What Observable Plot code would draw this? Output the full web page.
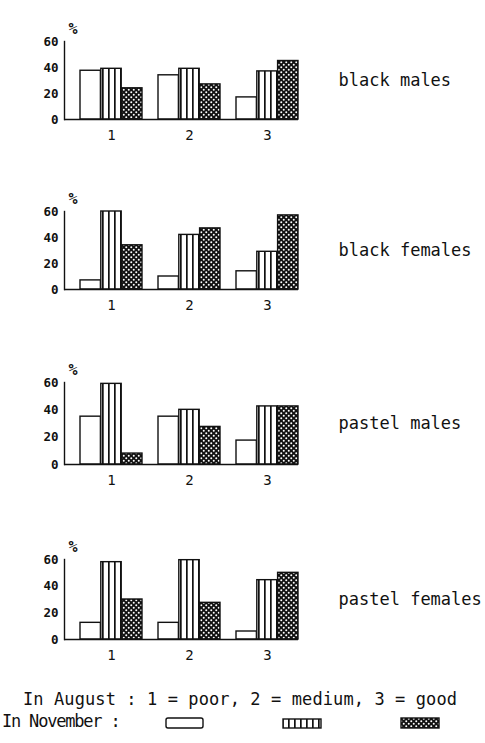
<!DOCTYPE html>
<html><head><meta charset="utf-8">
<script src="https://cdn.jsdelivr.net/npm/d3@7"></script>
<script src="https://cdn.jsdelivr.net/npm/@observablehq/plot@0.6"></script>
<style>
body{margin:0;background:#fff;}
#root{position:relative;width:485px;height:743px;overflow:hidden;font-family:"DejaVu Sans Mono",monospace;color:#111;}
.panel{position:absolute;left:0;}
.legend{position:absolute;white-space:pre;font-size:17px;line-height:17px;}
</style></head><body>
<svg width="0" height="0" style="position:absolute">
<defs>
<pattern id="stripes" patternUnits="userSpaceOnUse" width="6" height="6"><rect width="6" height="6" fill="white"/><rect x="0" width="1.7" height="6" fill="#111"/></pattern>
<pattern id="dots" patternUnits="userSpaceOnUse" width="5" height="5"><rect width="5" height="5" fill="#111"/><circle cx="1.25" cy="1.25" r="1" fill="white"/><circle cx="3.75" cy="3.75" r="1" fill="white"/></pattern>
</defs></svg>
<div id="root"></div>
<script>
// August condition groups
const groups = ["1", "2", "3"];
// November condition series
const series = ["poor", "medium", "good"];
const panelNames = ["black males", "black females", "pastel males", "pastel females"];
const yTicks = [0, 20, 40, 60];
// values (%) ordered: group 1 (poor, medium, good), group 2 (...), group 3 (...)
const blackMales    = [37.5, 39, 24,   34, 39, 27,     17, 37, 45];
const blackFemales  = [7, 60, 34,      10, 42, 47,     14, 29, 57];
const pastelMales   = [35, 59, 8,      35, 40, 27.5,   17.5, 42.5, 42.5];
const pastelFemales = [12.5, 58, 30,   12.5, 59.5, 27.5, 6, 44.5, 50];
const panelValues = [blackMales, blackFemales, pastelMales, pastelFemales];

const fills = {poor: "white", medium: "url(#stripes)", good: "url(#dots)"};
const layout = [{top: 41, h: 78}, {top: 211, h: 78}, {top: 382, h: 82}, {top: 559, h: 80}];
const W = 485, ML = 64, MR = 187, MT = 30, MB = 30;
const pIn = 0.2, pOut = 0.1;
const step = (W - ML - MR) / (3 - pIn + 2 * pOut);
const sub = step * (1 - pIn) / 3;

const root = document.getElementById("root");
panelNames.forEach((name, i) => {
  const vals = panelValues[i];
  const rows = [];
  groups.forEach((g, gi) => series.forEach((s, si) => rows.push({group: g, series: s, value: vals[gi * 3 + si]})));
  const chart = Plot.plot({
    width: W, height: layout[i].h + MT + MB,
    marginTop: MT, marginBottom: MB, marginLeft: ML, marginRight: MR,
    style: {fontFamily: "DejaVu Sans Mono, monospace", fontSize: "12px", background: "transparent", color: "#111", overflow: "visible"},
    x: {domain: groups, paddingInner: pIn, paddingOuter: pOut, align: 1},
    y: {domain: [0, 60]},
    marks: [
      ...series.map((s, k) => Plot.barY(rows.filter(d => d.series === s), {
        x: "group", y: "value", fill: fills[s], stroke: "#111", strokeWidth: 1.4,
        insetLeft: k * sub, insetRight: (2 - k) * sub
      })),
      Plot.ruleY([0], {stroke: "#111", strokeWidth: 1.6}),
      Plot.frame({anchor: "left", stroke: "#111", strokeWidth: 1.4}),
      Plot.axisY({ticks: yTicks, tickSize: 0, tickPadding: 6, label: null, fontWeight: "bold", fontSize: 12.5}),
      Plot.axisX({tickSize: 0, tickPadding: 11, label: null, fontSize: 14}),
      Plot.text(["%"], {frameAnchor: "top-left", dx: 4, dy: -18, fontSize: 15, fontWeight: "bold"}),
      Plot.text([name], {frameAnchor: "right", dx: 40, textAnchor: "start", fontSize: 17})
    ]
  });
  chart.classList.add("panel");
  chart.style.top = (layout[i].top - MT) + "px";
  root.appendChild(chart);
});

function addText(txt, left, top, extra) {
  const d = document.createElement("div");
  d.className = "legend";
  d.textContent = txt;
  d.style.left = left + "px";
  d.style.top = top + "px";
  if (extra) Object.assign(d.style, extra);
  root.appendChild(d);
}
addText("In August : 1 = poor, 2 = medium, 3 = good", 23, 691, {letterSpacing: "0.1px"});
addText("In November :", 2, 713, {letterSpacing: "-1.2px"});

const ns = "http://www.w3.org/2000/svg";
const sw = document.createElementNS(ns, "svg");
sw.setAttribute("width", W); sw.setAttribute("height", 743);
sw.style.position = "absolute"; sw.style.left = "0"; sw.style.top = "0"; sw.style.pointerEvents = "none";
[[166, 718, 37, 10, "poor"], [283, 719, 38, 9, "medium"], [401, 718, 38, 10, "good"]].forEach(([x, y, w, h, s]) => {
  const r = document.createElementNS(ns, "rect");
  r.setAttribute("x", x); r.setAttribute("y", y); r.setAttribute("width", w); r.setAttribute("height", h);
  r.setAttribute("fill", fills[s]); r.setAttribute("stroke", "#111"); r.setAttribute("stroke-width", 1.4);
  if (s === "poor") r.setAttribute("rx", 2);
  sw.appendChild(r);
});
root.appendChild(sw);
</script>
</body></html>
